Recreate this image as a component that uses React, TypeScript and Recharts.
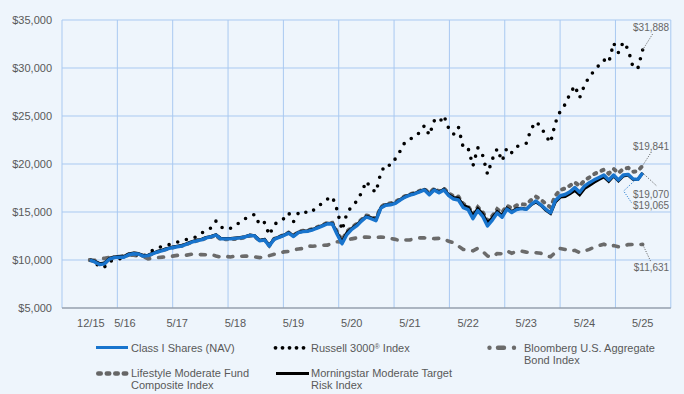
import React from 'react';
import { LineChart, Line, XAxis, YAxis, CartesianGrid } from 'recharts';

const FONT = '"Liberation Sans", Arial, Helvetica, sans-serif';
const BG = '#EEF5FC';
const GRID = '#A9C9F1';
const TEXT = '#595959';

// month offsets (0 = 12/15 month-end grid; first point is the starting value)
const monthOffsets: number[] = [];
for (let m = -1; m <= 113; m++) monthOffsets.push(m);

const tickValues = [-1, 5, 17, 29, 41, 53, 65, 77, 89, 101, 113];
const tickLabels = ['12/15', '5/16', '5/17', '5/18', '5/19', '5/20', '5/21', '5/22', '5/23', '5/24', '5/25'];
const yTicks = [5000, 10000, 15000, 20000, 25000, 30000, 35000];

const classI = [
  10000, 9800, 9520, 9600, 10080, 10250, 10300, 10280, 10550, 10650, 10620,
  10400, 10450, 10650, 10850, 10980, 11150, 11280, 11380, 11460, 11650,
  11850, 12000, 12100, 12300, 12420, 12600, 12200, 12200, 12200, 12250,
  12300, 12400, 12570, 12500, 12000, 12100, 11450, 12150, 12350, 12550,
  12800, 12450, 12850, 12950, 13000, 13150, 13350, 13550, 13780, 13750,
  12650, 11700, 12650, 13200, 13550, 14050, 14480, 14300, 14100, 15400,
  15700, 15750, 15900, 16250, 16550, 16750, 16900, 17100, 17300, 16800,
  17300, 17000, 17300, 16700, 16350, 16250, 15450, 15250, 14300, 15150,
  14550, 13550, 14150, 14900, 14450, 15300, 14950, 15250, 15350, 15280,
  15800, 16150, 15750, 15300, 14920, 16200, 16700, 16820, 17100, 17550,
  17050, 17700, 18050, 18350, 18600, 18850, 18330, 18850, 18330, 18850,
  18920, 18450, 18400, 19065,
];

const morningstar = [
  10000, 9870, 9600, 9680, 10150, 10320, 10370, 10350, 10620, 10720, 10690,
  10460, 10500, 10700, 10900, 11040, 11210, 11340, 11440, 11520, 11710,
  11900, 12050, 12150, 12350, 12460, 12630, 12250, 12240, 12230, 12280,
  12340, 12430, 12600, 12540, 12050, 12150, 11550, 12200, 12400, 12600,
  12850, 12520, 12900, 13000, 13050, 13200, 13400, 13600, 13830, 13800,
  12800, 11850, 12850, 13300, 13650, 14100, 14550, 14400, 14200, 15450,
  15750, 15800, 15950, 16300, 16600, 16800, 16950, 17150, 17350, 16850,
  17350, 17050, 17380, 16800, 16500, 16450, 15700, 15500, 14600, 15350,
  14800, 13850, 14400, 15050, 14650, 15400, 15050, 15350, 15400, 15300,
  15750, 16050, 15700, 15200, 14850, 16050, 16550, 16600, 16900, 17250,
  16800, 17450, 17750, 18100, 18400, 18650, 18200, 18750, 18250, 18750,
  18850, 18400, 18380, 19070,
];

const lifestyle = [
  10000, 9850, 9580, 9650, 10120, 10280, 10330, 10320, 10580, 10680, 10650,
  10430, 10470, 10670, 10870, 11000, 11170, 11300, 11400, 11480, 11670,
  11860, 12000, 12100, 12300, 12400, 12560, 12150, 12150, 12150, 12200,
  12260, 12360, 12530, 12460, 12000, 12100, 11500, 12200, 12400, 12600,
  12850, 12550, 12950, 13050, 13100, 13250, 13450, 13650, 13880, 13880,
  12900, 12050, 12950, 13400, 13750, 14200, 14650, 14500, 14300, 15500,
  15850, 15900, 16050, 16350, 16650, 16850, 17000, 17200, 17400, 16950,
  17450, 17150, 17450, 16950, 16650, 16600, 15850, 15600, 14750, 15500,
  15000, 14100, 14600, 15300, 14950, 15650, 15400, 15700, 15800, 15780,
  16250, 16600, 16300, 15850, 15500, 16700, 17300, 17450, 17750, 18100,
  17700, 18300, 18600, 18950, 19200, 19400, 19000, 19500, 19050, 19500,
  19600, 19200, 19250, 19841,
];

const bloomberg = [
  10000, 9970, 10110, 10180, 10270, 10300, 10300, 10480, 10500, 10490, 10430,
  10350, 10120, 10180, 10250, 10300, 10330, 10400, 10480, 10520, 10510,
  10600, 10560, 10560, 10550, 10600, 10420, 10300, 10370, 10320, 10400,
  10380, 10400, 10400, 10330, 10250, 10320, 10450, 10600, 10650, 10850,
  10900, 11050, 11150, 11200, 11450, 11430, 11480, 11530, 11550, 11750,
  11900, 11850, 12100, 12200, 12300, 12400, 12380, 12360, 12330, 12400,
  12350, 12250, 12150, 12000, 12080, 12100, 12200, 12300, 12300, 12260,
  12230, 12250, 12200, 11950, 11800, 11450, 11100, 11050, 10950, 11220,
  10900, 10420, 10300, 10680, 10650, 10950, 10700, 10900, 10920, 10820,
  10780, 10760, 10700, 10450, 10330, 10800, 11200, 11100, 10950, 11000,
  10780, 10950, 11100, 11350, 11500, 11650, 11420, 11500, 11380, 11420,
  11600, 11620, 11600, 11631,
];

const russell = [
  10000, 9800, 9250, 9250, 9880, 9950, 10130, 10150, 10520, 10540, 10550,
  10330, 10800, 11000, 11270, 11430, 11550, 11700, 11850, 12000, 12150,
  12300, 12400, 12800, 13050, 13350, 14050, 13450, 13200, 13300, 13650,
  13900, 14300, 14550, 14750, 13650, 13900, 12600, 13650, 14100, 14300,
  14900, 14000, 14900, 15130, 14850, 15150, 15500, 16000, 16350, 16600,
  15200, 13100, 14850, 15600, 16100, 17000, 18200, 17450, 17050, 19100,
  19950, 19850, 20550, 21350, 22300, 22600, 22800, 23300, 24000, 23000,
  24500, 24250, 25050, 23700, 23100, 23850, 21700, 21650, 19800, 21700,
  20900, 18950, 20500, 21600, 20300, 21700, 21180, 21800, 22000, 22160,
  23650, 24400, 23900, 22950, 22220, 24300, 25500, 26200, 27300, 28150,
  26900, 28200, 29100, 29700, 30300, 30850, 30550, 32600, 31600, 32700,
  31950, 30100, 29950, 31888,
];

const data = monthOffsets.map((t, i) => ({
  t,
  classI: classI[i],
  russell: russell[i],
  bloomberg: bloomberg[i],
  lifestyle: lifestyle[i],
  morningstar: morningstar[i],
}));

const LAST = data.length - 1;
const fmt = (v: number) => '$' + v.toLocaleString('en-US');

type EndCfg = {
  pts: [number, number][];
  ty: number;
  color: string;
};

const makeEnd = (cfg: EndCfg, key: string) => (props: any) => {
  const { cx, cy, index, value } = props;
  if (index !== LAST || cx == null || cy == null) return <g key={`${key}-${index}`} />;
  const v = Array.isArray(value) ? value[1] : value;
  const pts = [[0, 0], ...cfg.pts].map(([dx, dy]) => `${cx + dx},${cy + dy}`).join(' ');
  return (
    <g key={`${key}-${index}`}>
      <polyline points={pts} fill="none" stroke={cfg.color} strokeWidth={1} strokeDasharray="1 1.5" />
      <text x={cx + 26.5} y={cy + cfg.ty} textAnchor="end" fontSize={10} fontFamily={FONT} fill="#666">
        {fmt(v)}
      </text>
    </g>
  );
};

const XTick = (props: any) => {
  const { x, y, payload } = props;
  const idx = tickValues.indexOf(payload.value);
  const nudge = idx === 1 ? 6 : idx === 0 ? 1 : 0;
  return (
    <text x={x + nudge} y={y} dy="0.71em" textAnchor="middle" fontSize={11} fontFamily={FONT} fill={TEXT}>
      {tickLabels[idx]}
    </text>
  );
};

const legendText: React.CSSProperties = {
  position: 'absolute',
  fontFamily: FONT,
  fontSize: 11,
  lineHeight: '12.4px',
  color: TEXT,
  whiteSpace: 'nowrap',
};

const Legend = () => (
  <>
    <svg width={684} height={394} style={{ position: 'absolute', left: 0, top: 0, pointerEvents: 'none' }}>
      {/* Class I */}
      <line x1={96} x2={128} y1={347.5} y2={347.5} stroke="#1874CD" strokeWidth={3} />
      {/* Russell */}
      {[275.5, 282.5, 289.5, 296.5, 303.5].map((cx) => (
        <circle key={cx} cx={cx} cy={347.8} r={1.9} fill="#000" />
      ))}
      {/* Bloomberg */}
      <circle cx={489.5} cy={347.8} r={2.2} fill="#6b6b6b" />
      <line x1={498} x2={504} y1={347.8} y2={347.8} stroke="#6b6b6b" strokeWidth={4.4} strokeLinecap="round" />
      <circle cx={514} cy={347.8} r={2.2} fill="#6b6b6b" />
      {/* Lifestyle */}
      <line x1={98.25} x2={126.25} y1={373.5} y2={373.5} stroke="#666" strokeWidth={4.5} strokeLinecap="round" strokeDasharray="2.5 6" />
      {/* Morningstar */}
      <line x1={276} x2={309} y1={373.5} y2={373.5} stroke="#000" strokeWidth={3} />
    </svg>
    <div style={{ ...legendText, left: 131, top: 341.5 }}>Class I Shares (NAV)</div>
    <div style={{ ...legendText, left: 311, top: 341.5 }}>
      Russell 3000<span style={{ fontSize: 7, position: 'relative', top: -3 }}>®</span> Index
    </div>
    <div style={{ ...legendText, left: 524, top: 341.5 }}>
      Bloomberg U.S. Aggregate
      <br />
      Bond Index
    </div>
    <div style={{ ...legendText, left: 131, top: 367 }}>
      Lifestyle Moderate Fund
      <br />
      Composite Index
    </div>
    <div style={{ ...legendText, left: 311, top: 367 }}>
      Morningstar Moderate Target
      <br />
      Risk Index
    </div>
  </>
);

export default function App() {
  return (
    <div style={{ position: 'absolute', left: 0, top: 0, width: 684, height: 394, background: BG, overflow: 'hidden' }}>
      <LineChart
        width={684}
        height={394}
        data={data}
        margin={{ top: 20, right: 13.2, left: 0, bottom: 56 }}
      >
        <CartesianGrid
          stroke={GRID}
          strokeWidth={1}
          verticalCoordinatesGenerator={(p: any) => {
            const o = p.offset;
            const out: number[] = [];
            for (let j = 0; j <= 11; j++) out.push(o.left + (o.width * j) / 11);
            return out;
          }}
        />
        <XAxis
          dataKey="t"
          type="number"
          domain={[-6.75, 118.8]}
          ticks={tickValues}
          allowDataOverflow
          height={30}
          tickLine={false}
          tickMargin={5}
          axisLine={{ stroke: '#8c8c8c', strokeWidth: 1.2 }}
          tick={<XTick />}
          interval={0}
        />
        <YAxis
          type="number"
          domain={[5000, 35000]}
          ticks={yTicks}
          width={62}
          tickLine={false}
          axisLine={false}
          tickMargin={4}
          tickFormatter={fmt}
          tick={{ fontSize: 11, fontFamily: FONT, fill: TEXT }}
          interval={0}
        />
        <Line
          dataKey="bloomberg"
          type="linear"
          stroke="#6b6b6b"
          strokeWidth={3.6}
          strokeDasharray="5 9"
          strokeLinecap="round"
          isAnimationActive={false}
          dot={makeEnd({ pts: [[8, 17]], ty: 27, color: '#555' }, 'bb')}
          activeDot={false}
        />
        <Line
          dataKey="russell"
          type="linear"
          stroke="#000"
          strokeWidth={3.6}
          strokeDasharray="0 9"
          strokeLinecap="round"
          isAnimationActive={false}
          dot={makeEnd({ pts: [[10, -16]], ty: -18.5, color: '#555' }, 'ru')}
          activeDot={false}
        />
        <Line
          dataKey="lifestyle"
          type="linear"
          stroke="#666"
          strokeWidth={4}
          strokeDasharray="2 6"
          strokeLinecap="round"
          isAnimationActive={false}
          dot={makeEnd({ pts: [[9, -14]], ty: -16, color: '#555' }, 'lf')}
          activeDot={false}
        />
        <Line
          dataKey="morningstar"
          type="linear"
          stroke="#000"
          strokeWidth={3}
          isAnimationActive={false}
          dot={makeEnd({ pts: [[14, 13]], ty: 24.6, color: '#555' }, 'ms')}
          activeDot={false}
        />
        <Line
          dataKey="classI"
          type="linear"
          stroke="#1874CD"
          strokeWidth={3.4}
          strokeLinejoin="round"
          isAnimationActive={false}
          dot={makeEnd({ pts: [[-19, 18], [-11, 30]], ty: 36.5, color: '#1874CD' }, 'ci')}
          activeDot={false}
        />
      </LineChart>
      <Legend />
    </div>
  );
}
